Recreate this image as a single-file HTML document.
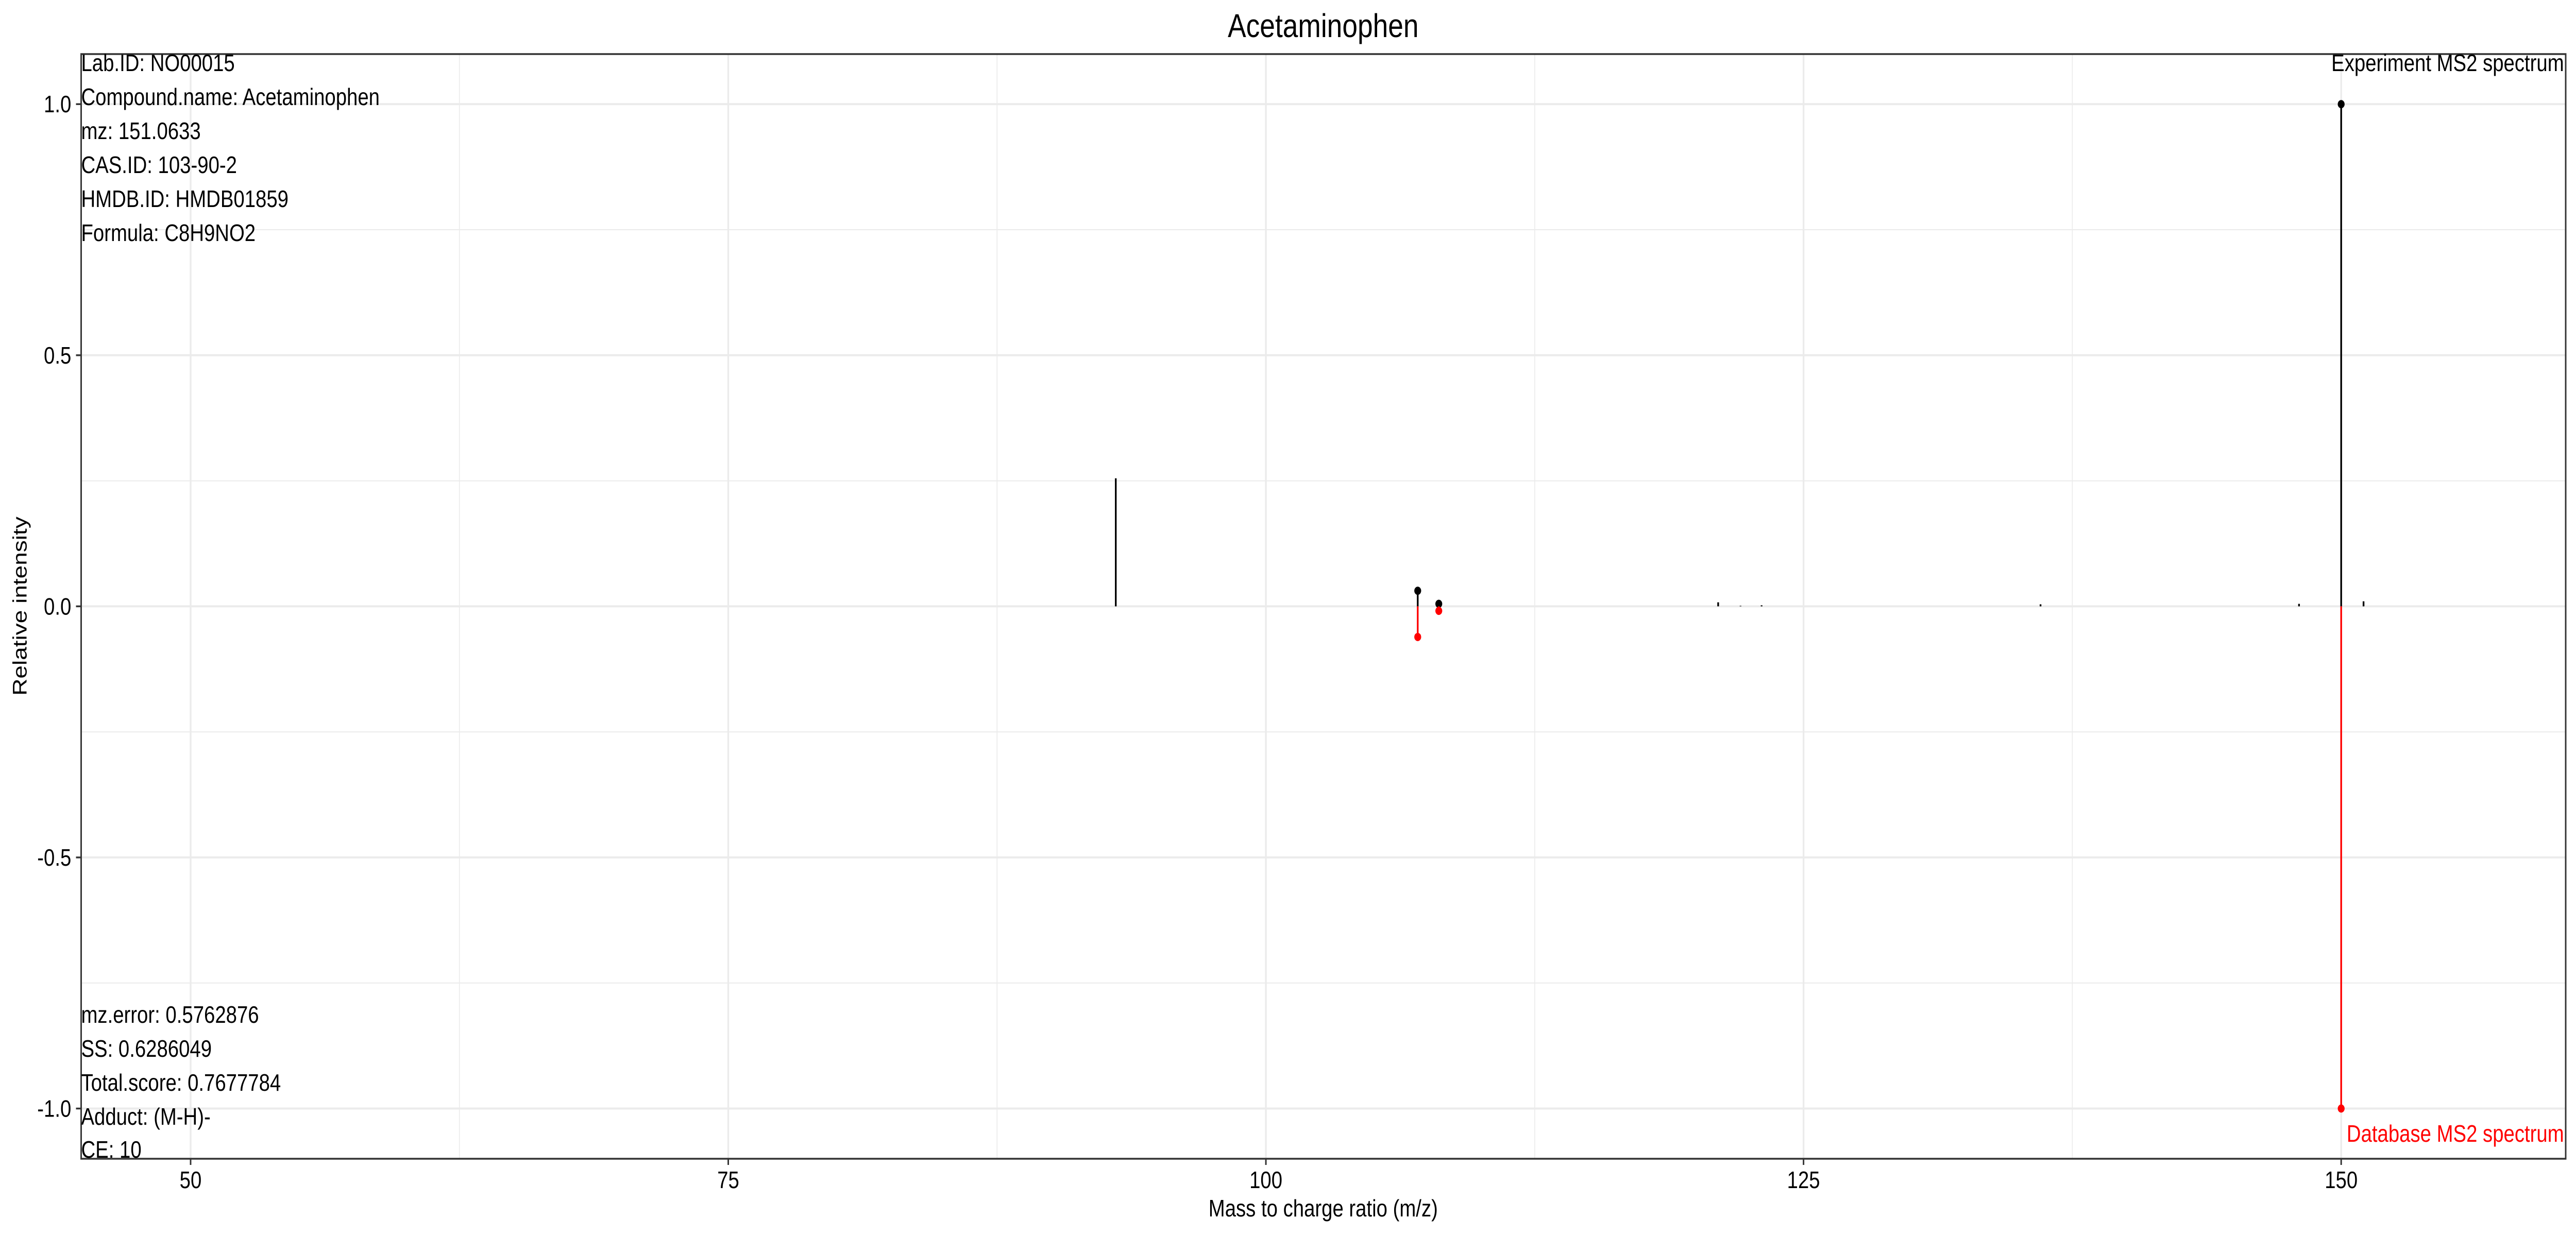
<!DOCTYPE html>
<html><head><meta charset="utf-8"><style>html,body{margin:0;padding:0;background:#fff;width:100%;height:100%;overflow:hidden}svg{display:block;width:100vw;height:100vh}text{font-family:"Liberation Sans",Arial,sans-serif}</style></head>
<body>
<svg id="chart" viewBox="0 0 6000 2400" preserveAspectRatio="none" xmlns="http://www.w3.org/2000/svg">
<rect x="0" y="0" width="6000" height="2400" fill="#fff"/>
<g id="grid"></g><g id="marks"></g><g id="axes"></g>
<text x="3082" y="72" font-size="64" text-anchor="middle">Acetaminophen</text>
<text x="3082" y="2362" font-size="46" text-anchor="middle">Mass to charge ratio (m/z)</text>
<text x="62" y="1177" font-size="46" text-anchor="middle" transform="rotate(-90 62 1177)">Relative intensity</text>
<g font-size="46">
<text x="189" y="138">Lab.ID: NO00015</text>
<text x="189" y="204">Compound.name: Acetaminophen</text>
<text x="189" y="270">mz: 151.0633</text>
<text x="189" y="336">CAS.ID: 103-90-2</text>
<text x="189" y="402">HMDB.ID: HMDB01859</text>
<text x="189" y="468">Formula: C8H9NO2</text>
</g>
<g font-size="46">
<text x="189" y="1986">mz.error: 0.5762876</text>
<text x="189" y="2052">SS: 0.6286049</text>
<text x="189" y="2118">Total.score: 0.7677784</text>
<text x="189" y="2184">Adduct: (M-H)-</text>
<text x="189" y="2248">CE: 10</text>
</g>
<text x="5972" y="138" font-size="46" text-anchor="end">Experiment MS2 spectrum</text>
<text x="5972" y="2217" font-size="46" text-anchor="end" fill="#ff0000">Database MS2 spectrum</text>
</svg>
<script>
const expMz = [93.02, 107.06, 108.04, 121.03, 122.07, 123.05, 136.02, 148.04, 150.0, 151.04];
const expInt = [0.255, 0.031, 0.005, 0.008, 0.001, 0.002, 0.004, 0.005, 1.0, 0.01];
const expMatched = [false, true, true, false, false, false, false, false, true, false];
const dbMz = [107.06, 108.04, 150.0];
const dbInt = [-0.061, -0.009, -1.0];
const xTicks = [50, 75, 100, 125, 150];
const xMinor = [62.5, 87.5, 112.5, 137.5];
const yTicks = [-1.0, -0.5, 0.0, 0.5, 1.0];
const yTickLabels = ["-1.0", "-0.5", "0.0", "0.5", "1.0"];
const yMinor = [-0.75, -0.25, 0.25, 0.75];

const L = 189, R = 5976, T = 105, B = 2250;
const X0 = 44.91, X1 = 160.44, Y0 = -1.1, Y1 = 1.0997;
function xs(v){ return L + (v - X0) / (X1 - X0) * (R - L); }
function ys(v){ return B - (v - Y0) / (Y1 - Y0) * (B - T); }
const NS = "http://www.w3.org/2000/svg";
function mk(tag, attrs, parent){ const e = document.createElementNS(NS, tag); for (const k in attrs) e.setAttribute(k, attrs[k]); parent.appendChild(e); return e; }
const grid = document.getElementById('grid'), marks = document.getElementById('marks'), axes = document.getElementById('axes');

xMinor.forEach(v => { const e = mk('line', {x1: xs(v), x2: xs(v), y1: T, y2: B, stroke: '#EBEBEB', 'stroke-width': 2}, grid);
  
   });
yMinor.forEach(v => { const e = mk('line', {x1: L, x2: R, y1: ys(v), y2: ys(v), stroke: '#EBEBEB', 'stroke-width': 2}, grid);
  
   });
xTicks.forEach(v => { const e = mk('line', {x1: xs(v), x2: xs(v), y1: T, y2: B, stroke: '#EBEBEB', 'stroke-width': 4}, grid);
  
   });
yTicks.forEach(v => { const e = mk('line', {x1: L, x2: R, y1: ys(v), y2: ys(v), stroke: '#EBEBEB', 'stroke-width': 4}, grid);
  
   });

expMz.forEach((m, i) => {
  const s = mk('line', {x1: xs(m), x2: xs(m), y1: ys(0), y2: ys(expInt[i]), stroke: '#000', 'stroke-width': 4}, marks);
  
  
  if (expMatched[i]) {
    const c = mk('ellipse', {cx: xs(m), cy: ys(expInt[i]), rx: 8, ry: 8, fill: '#000'}, marks);
    
    
  }
});
dbMz.forEach((m, i) => {
  const s = mk('line', {x1: xs(m), x2: xs(m), y1: ys(0), y2: ys(dbInt[i]), stroke: '#ff0000', 'stroke-width': 4}, marks);
  
  
  const c = mk('ellipse', {cx: xs(m), cy: ys(dbInt[i]), rx: 8, ry: 8, fill: '#ff0000'}, marks);
  
  
});

const border = mk('rect', {x: L, y: T, width: R - L, height: B - T, fill: 'none', stroke: '#333', 'stroke-width': 3.5}, axes);


xTicks.forEach(v => {
  const t = mk('line', {x1: xs(v), x2: xs(v), y1: B, y2: B + 12, stroke: '#333', 'stroke-width': 3.5}, axes);
  
  
  const lb = mk('text', {x: xs(v), y: 2307, 'font-size': 46, 'text-anchor': 'middle', fill: '#000'}, axes);
  lb.textContent = String(v);
  
  
});
yTicks.forEach((v, i) => {
  const t = mk('line', {x1: L - 12, x2: L, y1: ys(v), y2: ys(v), stroke: '#333', 'stroke-width': 3.5}, axes);
  
  
  const lb = mk('text', {x: 166, y: ys(v) + 16, 'font-size': 46, 'text-anchor': 'end', fill: '#000'}, axes);
  lb.textContent = yTickLabels[i];
  
  
});
</script>
</body></html>
